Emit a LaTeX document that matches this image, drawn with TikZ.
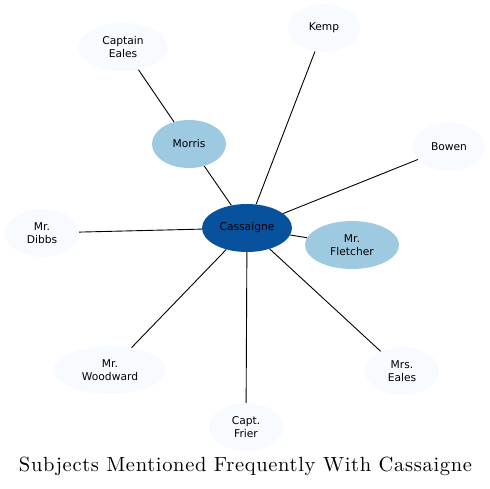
\documentclass[tikz,border=0pt]{standalone}
\usepackage{fontspec}
\newfontfamily\nodefont{DejaVu Sans}
\newfontfamily\titlefont{lmroman10-regular}[Extension=.otf,LetterSpace=3.3]
\usetikzlibrary{shapes.geometric}
\definecolor{dark}{HTML}{08519C}
\definecolor{mid}{HTML}{9ECAE1}
\definecolor{pale}{HTML}{F7FBFF}
\begin{document}
\begin{tikzpicture}[x=1pt,y=-1pt,
  ent/.style={ellipse,inner sep=0pt,minimum height=48pt,align=center,
    font=\nodefont\fontsize{10.7}{12.7}\selectfont,text=black},
  lvl0/.style={ent,fill=dark},
  lvl1/.style={ent,fill=mid},
  lvl2/.style={ent,fill=pale},
  link/.style={draw=black,line width=0.9pt}]
\useasboundingbox (0,0) rectangle (490,488);
\node[lvl0,minimum width=90pt] (cas) at (247,228) {Cassaigne};
\node[lvl1,minimum width=74pt] (mor) at (189,144) {Morris};
\node[lvl1,minimum width=94pt] (fle) at (352,245) {Mr.\\Fletcher};
\node[lvl2,minimum width=90pt] (cap) at (123,47) {Captain\\Eales};
\node[lvl2,minimum width=72pt] (kem) at (324,28) {Kemp};
\node[lvl2,minimum width=72pt] (bow) at (449,147) {Bowen};
\node[lvl2,minimum width=74pt] (dib) at (42,233) {Mr.\\Dibbs};
\node[lvl2,minimum width=112pt] (woo) at (110,370) {Mr.\\Woodward};
\node[lvl2,minimum width=74pt] (fri) at (246,427) {Capt.\\Frier};
\node[lvl2,minimum width=74pt] (mre) at (402,371) {Mrs.\\Eales};
\draw[link] (cap) -- (mor);
\draw[link] (mor) -- (cas);
\draw[link] (kem) -- (cas);
\draw[link] (bow) -- (cas);
\draw[link] (fle) -- (cas);
\draw[link] (dib) -- (cas);
\draw[link] (woo) -- (cas);
\draw[link] (fri) -- (cas);
\draw[link] (mre) -- (cas);
\node[font=\titlefont\fontsize{20.5}{24}\selectfont,inner sep=0pt] (title) at (245.5,466) {Subjects Mentioned Frequently With Cassaigne};
\end{tikzpicture}
\end{document}
